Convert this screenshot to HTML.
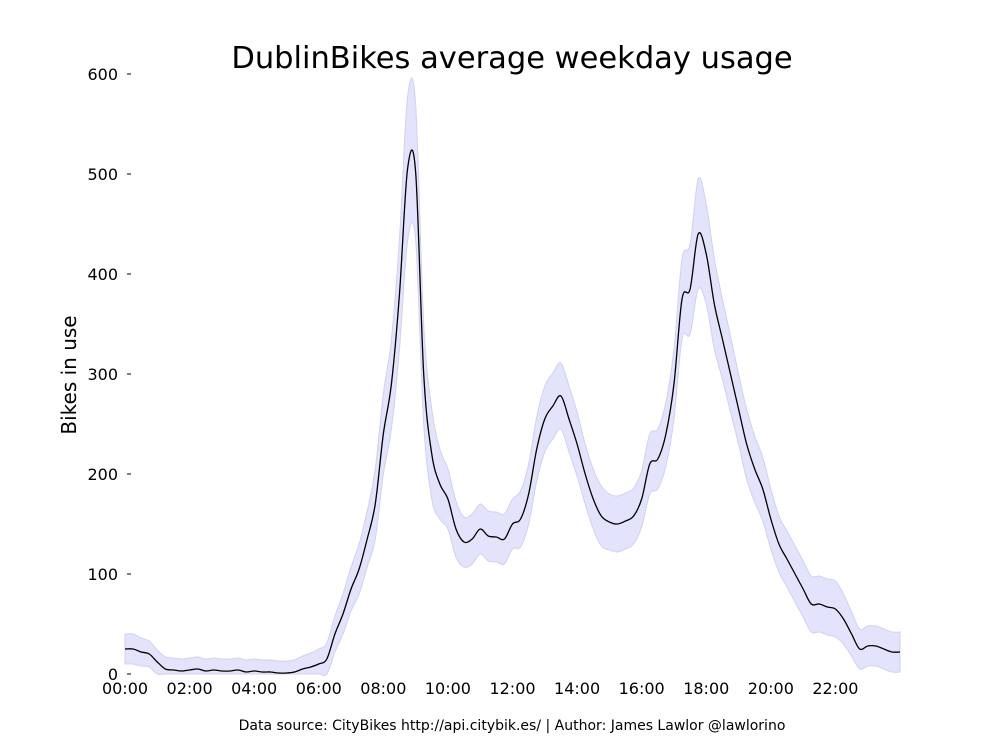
<!DOCTYPE html>
<html><head><meta charset="utf-8"><style>
body{margin:0;background:#fff;width:1000px;height:750px;overflow:hidden;font-family:"DejaVu Sans",sans-serif}
</style></head><body>
<svg id="chart" width="1000" height="750" xmlns="http://www.w3.org/2000/svg" font-family="DejaVu Sans, sans-serif"></svg>
<script>
const times = [];for(let i=0;i<96;i++)times.push(i*0.25);times.push(24);
const meanUsage = [25,25,22,20,12,5,4,3,4,5,3,4,3,3,4,2,3,2,2,1,1,2,5,7,10,15,40,60,85,105,135,170,240,290,380,505,502,300,220,190,175,145,132,135,145,138,137,135,150,155,180,225,255,268,278,255,230,200,175,158,152,150,153,158,175,210,215,240,290,375,385,440,420,370,335,300,265,230,205,185,155,130,115,100,85,70,70,67,65,55,40,25,28,28,25,22,22];
const spread = [15,15,14,13,12,12,12,12,12,12,12,12,12,12,12,12,12,12,12,12,12,12,13,14,15,16,18,20,22,25,28,35,40,45,55,72,68,50,45,35,30,28,25,25,25,25,25,25,25,28,30,32,33,33,33,33,32,30,30,30,28,28,28,28,28,30,30,32,35,40,45,55,50,45,40,38,35,35,33,32,30,28,28,28,28,28,28,28,28,25,22,20,20,20,20,20,20];
const yTicks = [0,100,200,300,400,500,600];
const xTickHours = [0,2,4,6,8,10,12,14,16,18,20,22];
const X0=125,X1=900,Y0=674,Y1=74;
const sx=h=>X0+(X1-X0)*h/24;
const sy=v=>Y0-(Y0-Y1)*v/600;
const NS="http://www.w3.org/2000/svg";
const svg=document.getElementById('chart');
function mk(t,a,p){const e=document.createElementNS(NS,t);for(const k in a)e.setAttribute(k,a[k]);(p||svg).appendChild(e);return e;}
function smooth(pts){let d=`M${pts[0][0]},${pts[0][1]}`;for(let i=0;i<pts.length-1;i++){const p0=pts[i-1]||pts[i],p1=pts[i],p2=pts[i+1],p3=pts[i+2]||p2;d+=` C${p1[0]+(p2[0]-p0[0])/6},${p1[1]+(p2[1]-p0[1])/6} ${p2[0]-(p3[0]-p1[0])/6},${p2[1]-(p3[1]-p1[1])/6} ${p2[0]},${p2[1]}`;}return d;}
const up=times.map((t,i)=>[sx(t),sy(meanUsage[i]+spread[i])]);
const lo=times.map((t,i)=>[sx(t),sy(Math.max(0,meanUsage[i]-spread[i]))]);
const loRev=lo.slice().reverse();
let band=smooth(up)+" L"+smooth(loRev).slice(1)+" Z";
const b=mk('path',{d:band,fill:'#e3e3fb',stroke:'#d0d0f5','stroke-width':1});


const line=mk('path',{d:smooth(times.map((t,i)=>[sx(t),sy(meanUsage[i])])),fill:'none',stroke:'#000','stroke-width':1.3});


yTicks.forEach(v=>{
 const tk=mk('line',{x1:X0+2,x2:X0+6,y1:sy(v),y2:sy(v),stroke:'#000'});
 
 
 const tx=mk('text',{x:X0-7,y:sy(v)+6,'text-anchor':'end','font-size':16});
 tx.textContent=v;
 
 
});
xTickHours.forEach(h=>{
 const tx=mk('text',{x:sx(h),y:694,'text-anchor':'middle','font-size':16});
 tx.textContent=String(h).padStart(2,'0')+':00';
 
 
});
const t=mk('text',{x:512,y:68,'text-anchor':'middle','font-size':30.5});t.textContent='DublinBikes average weekday usage';


const yl=mk('text',{x:76,y:375,'text-anchor':'middle','font-size':20,transform:'rotate(-90 76 375)'});yl.textContent='Bikes in use';


const src=mk('text',{x:512,y:730,'text-anchor':'middle','font-size':14});src.textContent='Data source: CityBikes http://api.citybik.es/ | Author: James Lawlor @lawlorino';


</script>
</body></html>
